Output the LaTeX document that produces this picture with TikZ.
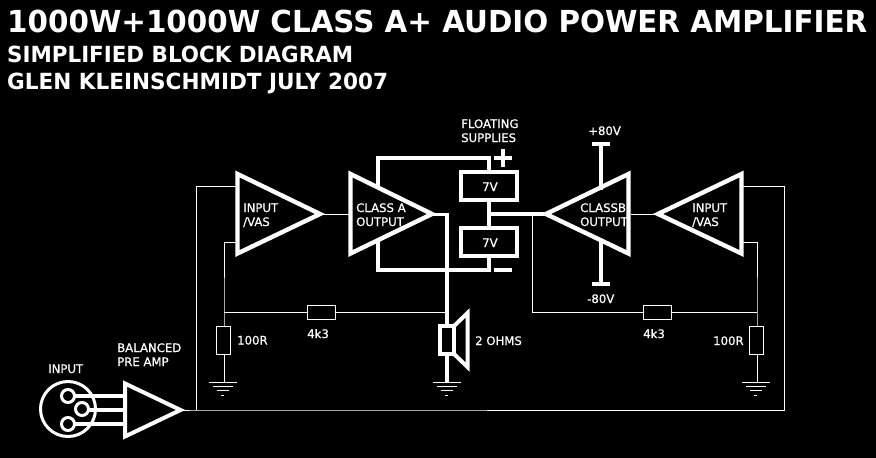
\documentclass[tikz,border=0pt]{standalone}
\usepackage{fontspec}
\setmainfont[FakeBold=0.7]{DejaVu Sans}
\newfontfamily\headfont{DejaVu Sans}
\usetikzlibrary{calc}
\tikzset{
  x=1pt,y=-1pt,
  thinw/.style={draw=white,line width=1pt},
  midw/.style={draw=white,line width=3pt},
  thickw/.style={draw=white,line width=4pt},
  amp/.style={draw=white,line width=4.4pt,line join=miter,miter limit=10},
  cbox/.style={draw=white,line width=4pt,fill=black},
  rbox/.style={draw=white,line width=1pt,fill=black},
  lab/.style={text=white,inner sep=0pt,anchor=base west,font=\fontsize{11.7}{13}\selectfont},
  sub/.style={text=white,inner sep=0pt,anchor=base west,font=\headfont\bfseries},
  ttl/.style={text=white,inner sep=0pt,anchor=base west,font=\headfont\bfseries},
}
\newcommand{\gnd}[2]{%
  \draw[thinw] (#1-14,#2) -- (#1+14,#2);
  \draw[thinw] (#1-10,#2+4) -- (#1+10,#2+4);
  \draw[thinw] (#1-6,#2+8) -- (#1+6,#2+8);
  \draw[thinw] (#1-2,#2+13) -- (#1+1,#2+13);
}
\begin{document}
\begin{tikzpicture}
\useasboundingbox (0,0) rectangle (876,458);
\fill[black] (0,0) rectangle (876,458);
% named points
\coordinate (fbL) at (196,186);
\coordinate (fbR) at (784,186);
\coordinate (botL) at (196,410);
\coordinate (botR) at (784,410);
\coordinate (jL) at (224,312);
\coordinate (jM) at (447,312);
\coordinate (jR) at (757,312);
\coordinate (jB) at (532,312);
% thin wiring
\draw[thinw] (183,410) -- (botL) -- (botR) -- (fbR) -- (743,186);
\draw[thinw] (botL) -- (fbL) -- (236,186);
\draw[thinw] (236,242) -- (224,242) -- (jL) -- (224,382);
\draw[thinw] (743,242) -- (757,242) -- (jR) -- (757,382);
\draw[thinw] (jL) -- (jM);
\draw[thinw] (532,214) -- (jB) -- (jR);
\draw[thinw] (320,214) -- (350,214);
\draw[thinw] (631,214) -- (656,214);
% resistors
\node[rbox,minimum width=14pt,minimum height=28pt,inner sep=0pt] (r1) at (223.5,340) {};
\node[rbox,minimum width=14pt,minimum height=28pt,inner sep=0pt] (r2) at (756.5,340.5) {};
\node[rbox,minimum width=28pt,minimum height=14pt,inner sep=0pt] (r3) at (321.5,312.5) {};
\node[rbox,minimum width=28pt,minimum height=14pt,inner sep=0pt] (r4) at (657.5,312.5) {};
% grounds
\gnd{223}{382.5}
\gnd{447}{382.5}
\gnd{756}{382.5}
% supplies
\draw[thickw] (378,188) -- (378,158) -- (489,158) -- (489,270) -- (378,270) -- (378,240);
\draw[thickw] (489,214) -- (546,214);
\draw[midw] (432,214) -- (447,214);
\draw[thickw] (447,212.5) -- (447,383);
\draw[thickw] (601,190) -- (601,146);
\draw[thickw] (601,240) -- (601,282);
\draw[thickw] (592,144) -- (610,144);
\draw[thickw] (592,284) -- (610,284);
\draw[thickw] (494,158) -- (512,158);
\draw[thickw] (503,149) -- (503,167);
\draw[thickw] (494,270) -- (512,270);
\node[cbox,minimum width=56pt,minimum height=28pt,inner sep=0pt,outer sep=0pt] (sup1) at (489,186) {};
\node[cbox,minimum width=56pt,minimum height=28pt,inner sep=0pt,outer sep=0pt] (sup2) at (489,242) {};
% amplifiers
\draw[amp] (237.5,174) -- (320,214) -- (237.5,253.5) -- cycle;
\draw[amp] (350.5,174) -- (432,214) -- (350.5,253.5) -- cycle;
\draw[amp] (628.5,174) -- (546,214) -- (628.5,253.5) -- cycle;
\draw[amp] (741.5,174) -- (658,214) -- (741.5,253.5) -- cycle;
% speaker
\draw[thickw,fill=black] (440,326) rectangle (454,354);
\draw[thickw,line join=miter] (454,326) -- (467.5,313) -- (467.5,367) -- (454,354);
% connector
\draw[midw] (68,409) circle (27.5);
\draw[thickw] (75,396) -- (125,396);
\draw[thickw] (88,410) -- (125,410);
\draw[thickw] (75,424) -- (125,424);
\draw[midw,fill=black] (68,396) circle (6.5);
\draw[midw,fill=black] (82,409) circle (6.5);
\draw[midw,fill=black] (68,424) circle (6.5);
\draw[amp,line width=4pt] (125,383.5) -- (180.5,410) -- (125,436.5) -- cycle;
% labels
\node[ttl] (t1) at (7,32) {\resizebox{860pt}{22.5pt}{1000W+1000W CLASS A+ AUDIO POWER AMPLIFIER}};
\node[sub] (t2) at (7,62) {\resizebox{346pt}{16.5pt}{SIMPLIFIED BLOCK DIAGRAM}};
\node[sub] (t3) at (7,89.5) {\resizebox{381pt}{16.5pt}{GLEN KLEINSCHMIDT JULY 2007}};
\node[lab] (a1) at (243,212) {INPUT};
\node[lab] (a2) at (243,226) {/VAS};
\node[lab] (b1) at (356,212) {CLASS A};
\node[lab] (b2) at (356,226) {OUTPUT};
\node[lab] (c1) at (580,212) {CLASSB};
\node[lab] (c2) at (580,226) {OUTPUT};
\node[lab] (d1) at (692,212) {INPUT};
\node[lab] (d2) at (692,226) {/VAS};
\node[lab] (f1) at (461,128) {FLOATING};
\node[lab] (f2) at (461,142) {SUPPLIES};
\node[lab] (p1) at (588,135) {+80V};
\node[lab] (p2) at (587,303) {-80V};
\node[lab] (v1t) at (482,191) {7V};
\node[lab] (v2t) at (482,247) {7V};
\node[lab] (o1) at (237,344.5) {100R};
\node[lab] (o2) at (713,345) {100R};
\node[lab] (k1) at (307,338) {4k3};
\node[lab] (k2) at (643,338) {4k3};
\node[lab] (s1) at (475,345) {2 OHMS};
\node[lab] (i1) at (48,373) {INPUT};
\node[lab] (bp1) at (117,352) {BALANCED};
\node[lab] (bp2) at (117,366) {PRE AMP};
\end{tikzpicture}
\end{document}
